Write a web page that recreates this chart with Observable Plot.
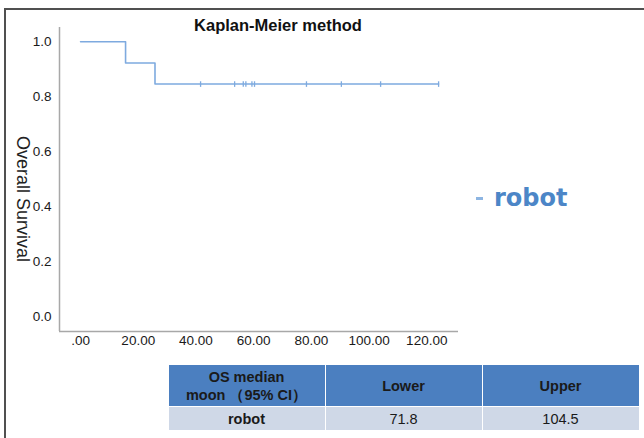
<!DOCTYPE html>
<html>
<head>
<meta charset="utf-8">
<script src="https://cdn.jsdelivr.net/npm/d3@7"></script>
<script src="https://cdn.jsdelivr.net/npm/@observablehq/plot@0.6"></script>
<style>
  html, body { margin: 0; padding: 0; background: #fff; }
  #wrap { position: relative; width: 644px; height: 438px; overflow: hidden; font-family: "Liberation Sans", Arial, sans-serif; }
  #wrap svg { position: absolute; left: 0; top: 0; }
  .frameTop { position: absolute; left: 4px; top: 8px; width: 640px; height: 0; border-top: 2px solid #505050; }
  .frameLeft { position: absolute; left: 4px; top: 8px; width: 0; height: 430px; border-left: 2px solid #505050; }
  #title { position: absolute; left: 278px; top: 25px; transform: translate(-50%, -50%); font-weight: bold; font-size: 16.5px; color: #111; white-space: nowrap; }
  #ylab { position: absolute; left: 22px; top: 199px; transform: translate(-50%, -50%) rotate(90deg); font-size: 18px; color: #222; white-space: nowrap; }
  #legend { position: absolute; left: 476px; top: 183px; height: 30px; display: flex; align-items: center; white-space: nowrap; }
  #legend .swatch { width: 7px; height: 3px; background: #8db5e2; margin-right: 11px; }
  #legend .lab { font-family: "DejaVu Sans", Verdana, sans-serif; font-weight: bold; font-size: 24px; color: #4c86c7; }
  table { position: absolute; left: 167.5px; top: 364px; border-collapse: separate; border-spacing: 1.5px; font-size: 14.5px; color: #1a1a1a; }
  th { background: #4b7fc0; font-weight: bold; height: 41px; padding: 0; line-height: 18px; }
  td { background: #cfd8e7; height: 23px; padding: 0; text-align: center; }
  td.first { font-weight: bold; }
</style>
</head>
<body>
<div id="wrap"></div>
<script>
// Kaplan-Meier step curve
const stepTimes = [0, 15.6, 25.8, 124.1];
const stepSurvival = [1.0, 0.923, 0.846, 0.846];
// censored observations
const censorTimes = [41.6, 53.4, 56.4, 57.3, 59.4, 60.3, 78.3, 90.4, 104.0, 124.1];
const censorSurvival = [0.846, 0.846, 0.846, 0.846, 0.846, 0.846, 0.846, 0.846, 0.846, 0.846];
// axes
const xTicks = [0, 20, 40, 60, 80, 100, 120];
const yTicks = [0, 0.2, 0.4, 0.6, 0.8, 1.0];
const xDomain = [-7.3, 131];
const yDomain = [-0.055, 1.052];
// legend & table
const seriesName = "robot";
const tableHeader = ["OS median\nmoon （95% CI）", "Lower", "Upper"];
const tableRow = ["robot", "71.8", "104.5"];

const curve = stepTimes.map((t, i) => ({time: t, surv: stepSurvival[i]}));
const censored = censorTimes.map((t, i) => ({time: t, surv: censorSurvival[i]}));

const lineColor = "#7eaadf";
const tickSymbol = {
  draw(context, size) {
    const h = Math.sqrt(size / Math.PI);
    context.moveTo(0, -h);
    context.lineTo(0, h);
  }
};

const chart = Plot.plot({
  width: 644,
  height: 360,
  marginLeft: 59,
  marginRight: 186,
  marginTop: 27,
  marginBottom: 29,
  style: {background: "none", fontFamily: "'Liberation Sans', Arial, sans-serif", fontSize: "13.5px", color: "#1a1a1a", overflow: "visible"},
  x: {domain: xDomain, ticks: xTicks, tickFormat: d => d === 0 ? ".00" : d.toFixed(2), tickSize: 0, tickPadding: 4, label: null},
  y: {domain: yDomain, ticks: yTicks, tickFormat: d3.format(".1f"), tickSize: 0, tickPadding: 8, label: null},
  marks: [
    Plot.ruleX([xDomain[0]], {stroke: "#a8a8a8", strokeWidth: 1.5}),
    Plot.ruleY([yDomain[0]], {stroke: "#a8a8a8", strokeWidth: 1.5}),
    Plot.line(curve, {x: "time", y: "surv", curve: "step-after", stroke: lineColor, strokeWidth: 1.6}),
    Plot.dot(censored, {x: "time", y: "surv", symbol: tickSymbol, r: 2.8, stroke: lineColor, fill: "none", strokeWidth: 1.3})
  ]
});

const wrap = document.getElementById("wrap");
wrap.appendChild(chart);

const add = (html) => { wrap.insertAdjacentHTML("beforeend", html); };
add(`<div class="frameTop"></div><div class="frameLeft"></div>`);
add(`<div id="title">Kaplan-Meier method</div>`);
add(`<div id="ylab">Overall Survival</div>`);
add(`<div id="legend"><div class="swatch"></div><div class="lab">${seriesName}</div></div>`);
const widths = [156, 156, 156];
add(`<table><tr>${tableHeader.map((h, i) => `<th style="width:${widths[i]}px">${h.replace("\n", "<br>")}</th>`).join("")}</tr>
<tr>${tableRow.map((c, i) => `<td class="${i === 0 ? "first" : ""}">${c}</td>`).join("")}</tr></table>`);
</script>
</body>
</html>
